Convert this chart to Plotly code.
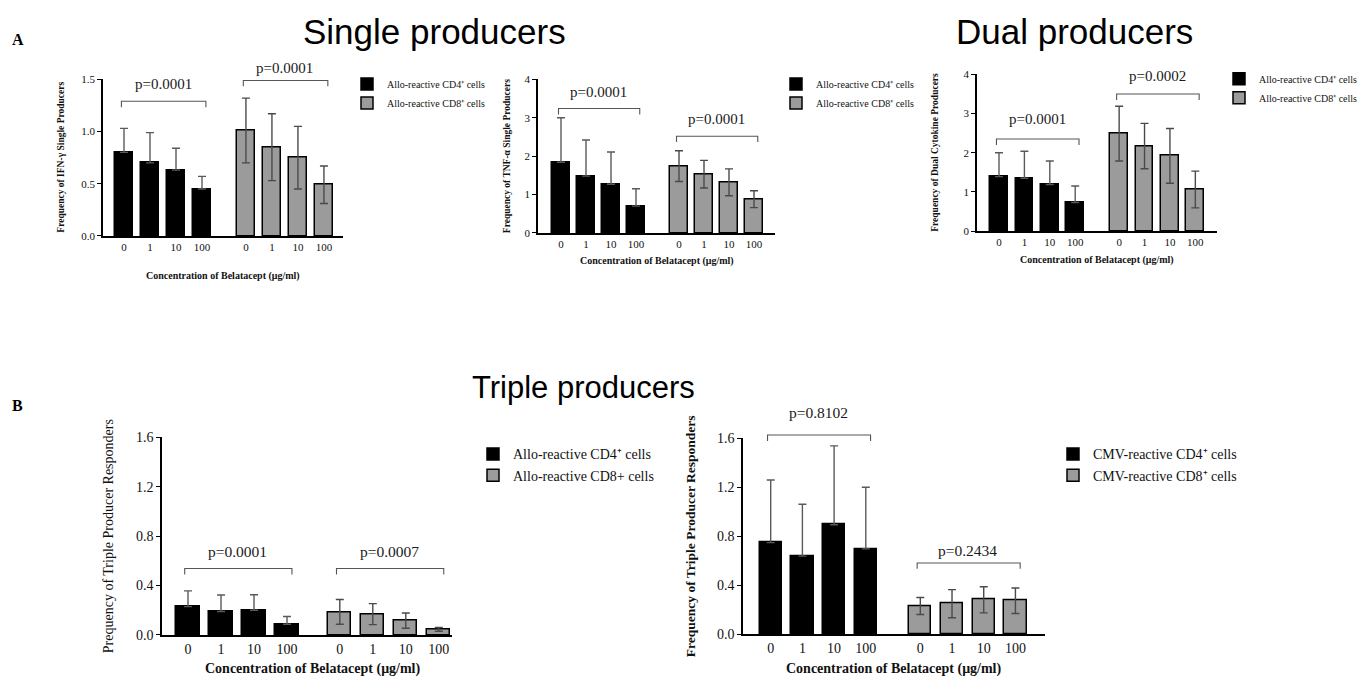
import plotly.graph_objects as go

W, H = 1368, 687

# ---------------- data ----------------
concentrations = ["0", "1", "10", "100"]

ifng_cd4 = [0.80, 0.70, 0.63, 0.45]
ifng_cd4_sd = [0.23, 0.29, 0.21, 0.12]
ifng_cd8 = [1.01, 0.85, 0.75, 0.49]
ifng_cd8_sd = [0.31, 0.32, 0.30, 0.18]

tnf_cd4 = [1.84, 1.48, 1.27, 0.70]
tnf_cd4_sd = [1.16, 0.94, 0.84, 0.45]
tnf_cd8 = [1.74, 1.53, 1.32, 0.88]
tnf_cd8_sd = [0.40, 0.36, 0.35, 0.22]

dual_cd4 = [1.39, 1.35, 1.19, 0.73]
dual_cd4_sd = [0.61, 0.69, 0.60, 0.42]
dual_cd8 = [2.49, 2.17, 1.92, 1.06]
dual_cd8_sd = [0.70, 0.58, 0.70, 0.47]

triple_allo_cd4 = [0.23, 0.19, 0.20, 0.087]
triple_allo_cd4_sd = [0.127, 0.134, 0.126, 0.063]
triple_allo_cd8 = [0.187, 0.169, 0.116, 0.045]
triple_allo_cd8_sd = [0.100, 0.085, 0.062, 0.015]

triple_cmv_cd4 = [0.747, 0.637, 0.893, 0.696]
triple_cmv_cd4_sd = [0.512, 0.424, 0.646, 0.504]
triple_cmv_cd8 = [0.229, 0.248, 0.280, 0.272]
triple_cmv_cd8_sd = [0.070, 0.115, 0.107, 0.104]

p_values = [("p=0.0001", "p=0.0001"), ("p=0.0001", "p=0.0001"), ("p=0.0001", "p=0.0002"),
            ("p=0.0001", "p=0.0007"), ("p=0.8102", "p=0.2434")]

series_names = [
    ("Allo-reactive CD4⁺ cells", "Allo-reactive CD8⁺ cells"),
    ("Allo-reactive CD4⁺ cells", "Allo-reactive CD8⁺ cells"),
    ("Allo-reactive CD4⁺ cells", "Allo-reactive CD8⁺ cells"),
    ("Allo-reactive CD4⁺ cells", "Allo-reactive CD8+ cells"),
    ("CMV-reactive CD4⁺ cells", "CMV-reactive CD8⁺ cells"),
]

y_titles = [
    "<b>Frequency of IFN-γ Single Producers</b>",
    "<b>Frequency of TNF-α Single Producers</b>",
    "<b>Frequency of Dual Cytokine Producers</b>",
    "Prequency of Triple Producer Responders",
    "<b>Frequency of Triple Producer Responders</b>",
]
x_title = "<b>Concentration of Belatacept (μg/ml)</b>"

panel_data = [
    (ifng_cd4, ifng_cd4_sd, ifng_cd8, ifng_cd8_sd),
    (tnf_cd4, tnf_cd4_sd, tnf_cd8, tnf_cd8_sd),
    (dual_cd4, dual_cd4_sd, dual_cd8, dual_cd8_sd),
    (triple_allo_cd4, triple_allo_cd4_sd, triple_allo_cd8, triple_allo_cd8_sd),
    (triple_cmv_cd4, triple_cmv_cd4_sd, triple_cmv_cd8, triple_cmv_cd8_sd),
]

# ---------------- layout / style (pixels) ----------------
panel_style = [
    dict(axl=103, axr=343, yt=74, yb=234, first=124, sp=26, gap=1.69, ymax=1.5, dtick=0.5, fmt=".1f",
         tick=11, br=(1.29, 1.49), pt=(1.46, 1.61), pfs=15, ytx=61, xty=275, xtx=223, tfs=10, yfs=9.5,
         leg=(347, 64), lfs=10, tl=0),
    dict(axl=538, axr=775, yt=74, yb=231, first=561, sp=25, gap=1.72, ymax=4, dtick=1, fmt="d",
         tick=11, br=(3.24, 2.52), pt=(3.66, 2.96), pfs=15, ytx=507, xty=260, xtx=657, tfs=10, yfs=9.5,
         leg=(776, 64), lfs=10, tl=0),
    dict(axl=977, axr=1217, yt=69, yb=229, first=999, sp=25.4, gap=1.73, ymax=4, dtick=1, fmt="d",
         tick=11, br=(2.35, 3.50), pt=(2.85, 3.96), pfs=15, ytx=935, xty=259, xtx=1097, tfs=10, yfs=9.5,
         leg=(1219, 58.5), lfs=10, tl=0),
    dict(axl=162, axr=452, yt=440, yb=642, first=188, sp=33, gap=1.6, ymax=1.6, dtick=0.4, fmt=".1f",
         tick=14, br=(0.538, 0.538), pt=(0.677, 0.677), pfs=15.5, ytx=108, xty=677, xtx=313, tfs=14, yfs=14,
         leg=(473, 441), lfs=14, tl=0),
    dict(axl=743, axr=1045, yt=441, yb=641, first=770.7, sp=31.7, gap=1.72, ymax=1.6, dtick=0.4, fmt=".1f",
         tick=14, br=(1.627, 0.581), pt=(1.81, 0.685), pfs=15.5, ytx=690, xty=677, xtx=894, tfs=14, yfs=13.5,
         leg=(1053, 441), lfs=14, tl=0),
]

SERIF = "Liberation Serif"
SANS = "Liberation Sans"
GRAY = "#9b9b9b"


def px(x):
    return x / W


def py(y):
    return 1 - y / H


fig = go.Figure()
shapes = []
annotations = []
layout_axes = {}

for i, (data, st) in enumerate(zip(panel_data, panel_style), start=1):
    cd4, cd4_sd, cd8, cd8_sd = data
    sfx = "" if i == 1 else str(i)
    leg = "legend" + sfx
    xb = [k for k in range(len(cd4))]
    xg = [3 + st["gap"] + k for k in range(len(cd8))]

    fig.add_trace(go.Bar(
        x=xb, y=cd4, width=0.7, name=series_names[i - 1][0],
        marker=dict(color="black", line=dict(color="black", width=1.5)),
        error_y=dict(type="data", array=cd4_sd, arrayminus=[0] * len(cd4_sd),
                     color="#5a5a5a", thickness=1.4, width=4),
        xaxis="x" + sfx, yaxis="y" + sfx, legend=leg, showlegend=True,
    ))
    fig.add_trace(go.Bar(
        x=xg, y=cd8, width=0.7, name=series_names[i - 1][1],
        marker=dict(color=GRAY, line=dict(color="black", width=1.5)),
        error_y=dict(type="data", array=cd8_sd, symmetric=True,
                     color="#4a4a4a", thickness=1.4, width=4),
        xaxis="x" + sfx, yaxis="y" + sfx, legend=leg, showlegend=True,
    ))

    r0 = (st["axl"] - st["first"]) / st["sp"]
    r1 = (st["axr"] - st["first"]) / st["sp"]
    layout_axes["xaxis" + sfx] = dict(
        domain=[px(st["axl"]), px(st["axr"])], range=[r0, r1], anchor="y" + sfx,
        tickvals=xb + xg, ticktext=concentrations * 2,
        showline=True, linecolor="black", linewidth=1.6,
        ticks="outside", ticklen=st["tl"], tickcolor="rgba(0,0,0,0)",
        tickfont=dict(family=SERIF, size=st["tick"], color="#111"),
        showgrid=False, zeroline=False, fixedrange=True,
    )
    layout_axes["yaxis" + sfx] = dict(
        domain=[py(st["yb"]), py(st["yt"])], range=[0, st["ymax"]], anchor="x" + sfx,
        tick0=0, dtick=st["dtick"], tickformat=st["fmt"],
        showline=True, linecolor="black", linewidth=1.6,
        ticks="outside", ticklen=4, tickwidth=1.4, tickcolor="black",
        tickfont=dict(family=SERIF, size=st["tick"], color="#111"),
        showgrid=False, zeroline=False, fixedrange=True,
    )

    # data -> pixel helpers for this panel
    def dx(v, st=st):
        return st["first"] + v * st["sp"]

    def dy(v, st=st):
        return st["yb"] - v / st["ymax"] * (st["yb"] - st["yt"])

    # significance brackets
    for grp, xs in enumerate((xb, xg)):
        x0 = dx(xs[0] - 0.1)
        x1 = dx(xs[-1] + 0.15)
        yb_ = dy(st["br"][grp])
        path = (f"M{px(x0)},{py(yb_ + 6)} L{px(x0)},{py(yb_)} "
                f"L{px(x1)},{py(yb_)} L{px(x1)},{py(yb_ + 6)}")
        shapes.append(dict(type="path", xref="paper", yref="paper", path=path,
                           line=dict(color="#555", width=1.1)))
        annotations.append(dict(
            x=px((dx(xs[0]) + dx(xs[-1])) / 2), y=py(dy(st["pt"][grp])),
            xref="paper", yref="paper", text=p_values[i - 1][grp], showarrow=False,
            xanchor="center", yanchor="middle",
            font=dict(family=SERIF, size=st["pfs"], color="#1a1a1a")))

    # axis titles
    annotations.append(dict(
        x=px(st["xtx"]), y=py(st["xty"]), xref="paper", yref="paper", text=x_title,
        showarrow=False, xanchor="center", yanchor="middle",
        font=dict(family=SERIF, size=st["tfs"], color="#111")))
    annotations.append(dict(
        x=px(st["ytx"]), y=py((st["yt"] + st["yb"]) / 2), xref="paper", yref="paper",
        text=y_titles[i - 1], textangle=-90, showarrow=False,
        xanchor="center", yanchor="middle",
        font=dict(family=SERIF, size=st["yfs"], color="#111")))

    layout_axes[leg] = dict(
        x=px(st["leg"][0]), y=py(st["leg"][1]), xanchor="left", yanchor="top",
        bgcolor="rgba(0,0,0,0)", borderwidth=0, itemclick=False, itemdoubleclick=False,
        font=dict(family=SERIF, size=st["lfs"], color="#111"),
    )

# section titles and panel letters
for text, x, y, s in [("Single producers", 434, 25, 35), ("Dual producers", 1074, 25, 35),
                      ("Triple producers", 583, 389, 31)]:
    annotations.append(dict(x=px(x), y=py(y), xref="paper", yref="paper", text=text,
                            showarrow=False, xanchor="center", yanchor="middle",
                            font=dict(family=SANS, size=s, color="black")))
for text, x, y in [("<b>A</b>", 10, 33), ("<b>B</b>", 10, 407)]:
    annotations.append(dict(x=px(x), y=py(y), xref="paper", yref="paper", text=text,
                            showarrow=False, xanchor="left", yanchor="middle",
                            font=dict(family=SERIF, size=16, color="black")))

fig.update_layout(
    width=W, height=H, margin=dict(l=0, r=0, t=0, b=0),
    paper_bgcolor="white", plot_bgcolor="white",
    font=dict(family=SERIF, size=12, color="#111"),
    barmode="overlay", bargap=0,
    shapes=shapes, annotations=annotations,
    **layout_axes,
)

fig.write_html("out.html")
